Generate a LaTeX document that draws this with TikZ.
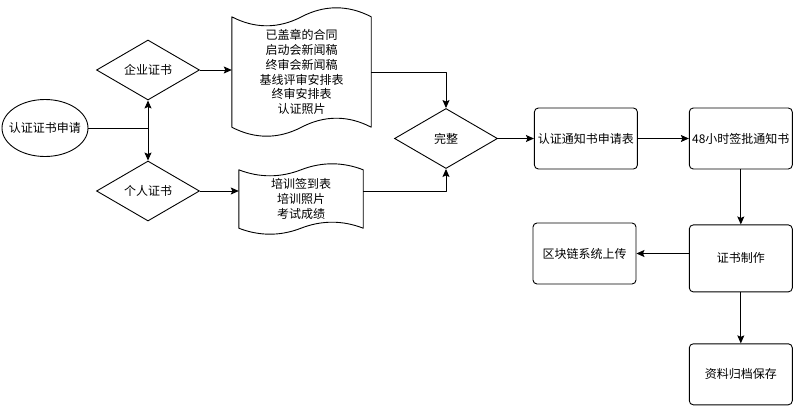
\documentclass[tikz,border=0pt]{standalone}
\usepackage{fontspec}
\setmainfont{Noto Sans CJK SC}
\usepackage{tikz}
\usetikzlibrary{arrows.meta, calc, positioning, shapes.geometric}
\tikzset{%
  step_block/.style={%
    draw,%
    rectangle,%
    rounded corners=4pt,%
    line width=0.9pt,%
    minimum width=103pt,%
    minimum height=61pt,%
    inner sep=0pt,%
    align=center,%
  },
  choice/.style={%
    draw,%
    diamond,%
    aspect=1.7,%
    line width=0.9pt,%
    minimum width=103pt,%
    minimum height=60pt,%
    inner sep=0pt,%
  },
  paper/.style={%
    rectangle,%
    inner sep=0pt,%
    align=center,%
  },
  smooth_path/.style={%
    line width=0.9pt,%
    line join=round,%
  },
  arrow/.style={-{Stealth[length=8pt, width=7pt, inset=1.5pt]}},
}
\newcommand{\paperedge}[2]{%
  \draw [smooth_path]
    (#1.north west) -- (#1.south west)
    .. controls ($(#1.south west)!0.33!(#1.south)+(0pt,-#2)$) and ($(#1.south west)!0.67!(#1.south)+(0pt,-#2)$) .. (#1.south)
    .. controls ($(#1.south)!0.33!(#1.south east)+(0pt,#2)$) and ($(#1.south)!0.67!(#1.south east)+(0pt,#2)$) .. (#1.south east)
    -- (#1.north east)
    .. controls ($(#1.north east)!0.33!(#1.north)+(0pt,#2)$) and ($(#1.north east)!0.67!(#1.north)+(0pt,#2)$) .. (#1.north)
    .. controls ($(#1.north)!0.33!(#1.north west)+(0pt,-#2)$) and ($(#1.north)!0.67!(#1.north west)+(0pt,-#2)$) .. cycle;%
}
\begin{document}
\begin{tikzpicture}[x=1pt, y=-1pt, font=\fontsize{12}{14.8}\selectfont]
          \useasboundingbox (0,0) rectangle (800,415);

          \node [minimum width=86pt, minimum height=57pt, inner sep=0pt] (Apply) at (45,128) {认证证书申请};
          \draw [smooth_path] (Apply) ellipse [x radius=43pt, y radius=28.5pt];
          \node [choice] (Company) at (148,70) {企业证书};
          \node [choice] (Person) at (148,191) {个人证书};
          \node [paper, minimum width=139pt, minimum height=110pt] (CompanyDocs) at (301.5,72)
            {已盖章的合同\\启动会新闻稿\\终审会新闻稿\\基线评审安排表\\终审安排表\\认证照片};
          \paperedge{CompanyDocs}{12pt}
          \node [paper, minimum width=124pt, minimum height=58pt] (PersonDocs) at (301,199)
            {培训签到表\\培训照片\\考试成绩};
          \paperedge{PersonDocs}{8pt}
          \node [choice] (Complete) at (446,138.5) {完整};
          \node [step_block, right = 36pt of Complete] (Form) {认证通知书申请表};
          \node [step_block, right = 51pt of Form] (Notice) {48小时签批通知书};
          \node [step_block, minimum height=67pt, below = 55pt of Notice] (Make) {证书制作};
          \node [step_block] (Chain) at (584.5,253.5) {区块链系统上传};
          \node [step_block, below = 51pt of Make] (Archive) {资料归档保存};

          \draw [arrow, smooth_path]
            (Apply.east)
            -|
            (Company.south);
          \draw [arrow, smooth_path]
            (Apply.east)
            -|
            (Person.north);
          \draw [arrow, smooth_path]
            (Company.east)
            --
            (Company.east -| CompanyDocs.west);
          \draw [arrow, smooth_path]
            (Person.east)
            --
            (Person.east -| PersonDocs.west);
          \draw [arrow, smooth_path]
            (CompanyDocs.east)
            -|
            (Complete.north);
          \draw [arrow, smooth_path]
            (Person.east -| PersonDocs.east)
            -|
            (Complete.south);
          \draw [arrow, smooth_path]
            (Complete.east)
            --
            (Form.west);
          \draw [arrow, smooth_path]
            (Form.east)
            --
            (Notice.west);
          \draw [arrow, smooth_path]
            (Notice.south)
            --
            (Make.north);
          \draw [arrow, smooth_path]
            (Make.west |- Chain.east)
            --
            (Chain.east);
          \draw [arrow, smooth_path]
            (Make.south)
            --
            (Archive.north);
        \end{tikzpicture}
\end{document}
